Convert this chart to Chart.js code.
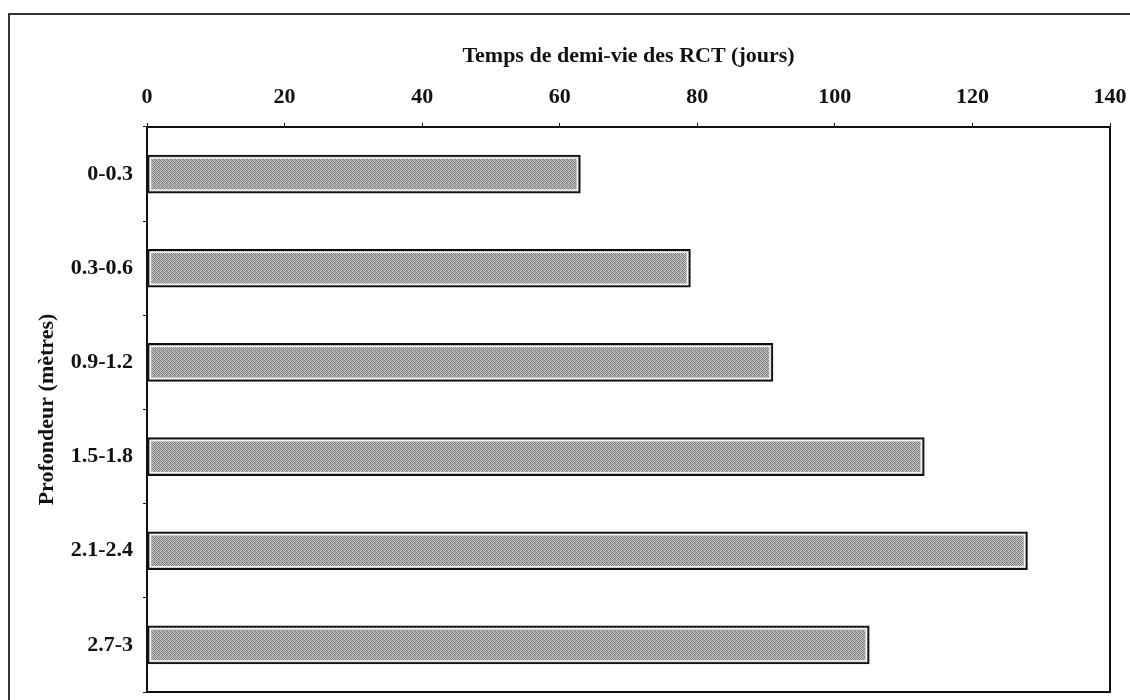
<!DOCTYPE html>
<html>
<head>
<meta charset="utf-8">
<script src="https://cdn.jsdelivr.net/npm/chart.js@4.4.1/dist/chart.umd.min.js"></script>
<style>
  html, body { margin: 0; padding: 0; background: #fff; overflow: hidden; }
  #wrap { position: relative; width: 1130px; height: 700px; }
  #frame { position: absolute; left: 8px; top: 13px; width: 1200px; height: 800px;
           border-left: 2px solid #333; border-top: 2px solid #333; }
  canvas { position: absolute; left: 0; top: 0; }
</style>
</head>
<body>
<div id="wrap">
  <div id="frame"></div>
  <canvas id="c" width="1130" height="700"></canvas>
</div>
<script>
// Depth intervals (m) and half-life of RCT (days)
const depths = ['0-0.3', '0.3-0.6', '0.9-1.2', '1.5-1.8', '2.1-2.4', '2.7-3'];
const halfLife = [63, 79, 91, 113, 128, 105];
const xTicks = [0, 20, 40, 60, 80, 100, 120, 140];

const serif = '"Liberation Serif", "Times New Roman", serif';

// Stippled grey fill for the bars (fixed dither tile)
function stipple() {
  const t = document.createElement('canvas');
  t.width = 4; t.height = 4;
  const g = t.getContext('2d');
  const tile = [
    '#7e7e7e', '#c8c8c8', '#929292', '#b0b0b0',
    '#bcbcbc', '#747474', '#d4d4d4', '#8a8a8a',
    '#989898', '#c2c2c2', '#7a7a7a', '#b6b6b6',
    '#d0d0d0', '#868686', '#aaaaaa', '#848484'
  ];
  tile.forEach((c, i) => { g.fillStyle = c; g.fillRect(i % 4, Math.floor(i / 4), 1, 1); });
  return t.getContext('2d').createPattern(t, 'repeat');
}

// Frame around the plotting area and a thin light inner edge on each bar
const decorations = {
  id: 'decorations',
  afterDatasetsDraw(chart) {
    const { ctx, chartArea: a } = chart;
    ctx.save();
    ctx.strokeStyle = '#f4f4f4';
    ctx.lineWidth = 1.5;
    chart.getDatasetMeta(0).data.forEach(bar => {
      const h = bar.height;
      ctx.strokeRect(bar.base + 3, bar.y - h / 2 + 3, bar.x - bar.base - 6, h - 6);
    });
    ctx.strokeStyle = '#111';
    ctx.lineWidth = 2;
    ctx.strokeRect(a.left, a.top, a.right - a.left, a.bottom - a.top);
    ctx.restore();
  }
};

new Chart(document.getElementById('c'), {
  type: 'bar',
  data: {
    labels: depths,
    datasets: [{
      data: halfLife,
      backgroundColor: stipple(),
      borderColor: '#111',
      borderWidth: 2,
      borderSkipped: false,
      barThickness: 38
    }]
  },
  options: {
    indexAxis: 'y',
    responsive: false,
    animation: false,
    layout: { padding: { top: 30, left: 20, right: 20, bottom: 8 } },
    plugins: { legend: { display: false }, tooltip: { enabled: false } },
    scales: {
      x: {
        position: 'top',
        min: 0, max: 140,
        afterBuildTicks(scale) { scale.ticks = xTicks.map(v => ({ value: v })); },
        afterFit(scale) { scale.height = 97; scale.paddingLeft = 0; scale.paddingRight = 0; },
        border: { display: true, color: '#111', width: 2 },
        grid: { display: true, drawOnChartArea: false, tickLength: 4, color: '#111' },
        ticks: { color: '#111', padding: 12, maxRotation: 0,
                 font: { family: serif, size: 22, weight: 'bold' } },
        title: { display: true, text: 'Temps de demi-vie des RCT (jours)', color: '#111',
                 padding: { top: 13, bottom: 0 },
                 font: { family: serif, size: 22, weight: 'bold' } }
      },
      y: {
        afterFit(scale) { scale.width = 127; scale.paddingTop = 0; scale.paddingBottom = 0; },
        border: { display: true, color: '#111', width: 2 },
        grid: { display: true, drawOnChartArea: false, offset: true, tickLength: 4, color: '#111' },
        ticks: { color: '#111', padding: 10,
                 font: { family: serif, size: 22, weight: 'bold' } },
        title: { display: true, text: 'Profondeur (mètres)', color: '#111',
                 padding: { top: 14, bottom: 0 },
                 font: { family: serif, size: 22, weight: 'bold' } }
      }
    }
  },
  plugins: [decorations]
});
</script>
</body>
</html>
